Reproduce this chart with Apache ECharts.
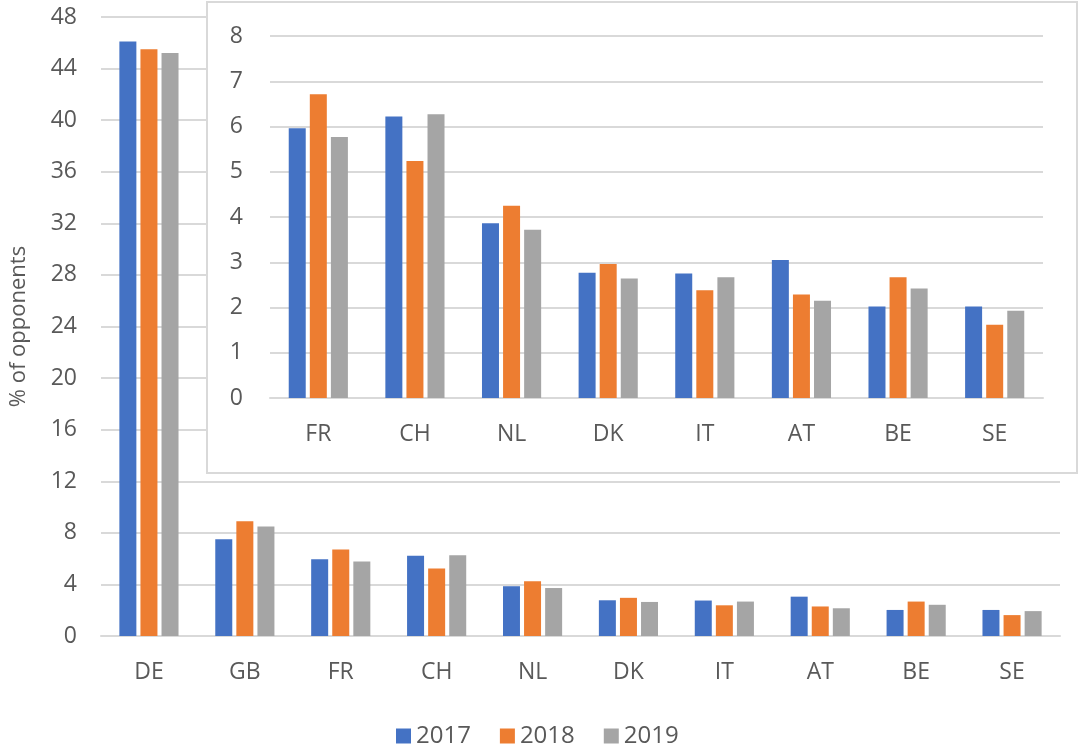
<!DOCTYPE html>
<html><head><meta charset="utf-8">
<script src="https://cdn.jsdelivr.net/npm/echarts@6/dist/echarts.min.js"></script>
<style>html,body{margin:0;padding:0;background:#fff}#c{width:1080px;height:747px}</style>
</head><body><div id="c"></div>
<script>
const years = ['2017', '2018', '2019'];
const mainCategories = ['DE', 'GB', 'FR', 'CH', 'NL', 'DK', 'IT', 'AT', 'BE', 'SE'];
const main2017 = [46.1, 7.5, 5.96, 6.22, 3.86, 2.77, 2.75, 3.05, 2.02, 2.02];
const main2018 = [45.5, 8.9, 6.71, 5.24, 4.25, 2.96, 2.38, 2.29, 2.67, 1.62];
const main2019 = [45.2, 8.5, 5.77, 6.27, 3.72, 2.64, 2.67, 2.15, 2.42, 1.93];
const insetCategories = ['FR', 'CH', 'NL', 'DK', 'IT', 'AT', 'BE', 'SE'];
const inset2017 = [5.96, 6.22, 3.86, 2.77, 2.75, 3.05, 2.02, 2.02];
const inset2018 = [6.71, 5.24, 4.25, 2.96, 2.38, 2.29, 2.67, 1.62];
const inset2019 = [5.77, 6.27, 3.72, 2.64, 2.67, 2.15, 2.42, 1.93];
const mainTicks = {min: 0, max: 48, interval: 4};
const insetTicks = {min: 0, max: 8, interval: 1};

const colors = ['#4472C4', '#ED7D31', '#A5A5A5'];
const txt = '#595959';
const font = 'Open Sans';
const chart = echarts.init(document.getElementById('c'));
const mainData = [main2017, main2018, main2019];
const insetData = [inset2017, inset2018, inset2019];
const series = [];
years.forEach((y, i) => {
  series.push({name: y, type: 'bar', xAxisIndex: 0, yAxisIndex: 0, data: mainData[i],
    barWidth: 17, barGap: '24%', itemStyle: {color: colors[i]}, z: 2});
});
years.forEach((y, i) => {
  series.push({name: y, type: 'bar', xAxisIndex: 1, yAxisIndex: 1, data: insetData[i],
    barWidth: 17, barGap: '24%', itemStyle: {color: colors[i]}, z: 12});
});
chart.setOption({
  animation: false,
  color: colors,
  textStyle: {fontFamily: font},
  grid: [
    {left: 94, right: 20, top: 17, bottom: 111},
    {left: 270, right: 37, top: 36, bottom: 349, z: 10}
  ],
  legend: {
    data: years, top: 719, left: 391, itemWidth: 15, itemHeight: 15, itemGap: 29,
    icon: 'rect', textStyle: {color: txt, fontSize: 24, fontFamily: font}
  },
  graphic: [{
    type: 'rect', z: 5, silent: true,
    shape: {x: 207, y: 2, width: 870, height: 471},
    style: {fill: '#fff', stroke: '#d9d9d9', lineWidth: 2}
  }],
  xAxis: [
    {type: 'category', gridIndex: 0, data: mainCategories,
      axisLine: {lineStyle: {color: '#d9d9d9', width: 2}}, axisTick: {show: false},
      axisLabel: {color: txt, fontSize: 23, margin: 25, fontFamily: font}},
    {type: 'category', gridIndex: 1, data: insetCategories, z: 10,
      axisLine: {lineStyle: {color: '#d9d9d9', width: 2}}, axisTick: {show: false},
      axisLabel: {color: txt, fontSize: 23, margin: 25, fontFamily: font}}
  ],
  yAxis: [
    {type: 'value', gridIndex: 0, min: mainTicks.min, max: mainTicks.max, interval: mainTicks.interval,
      name: '% of opponents', nameLocation: 'middle', nameGap: 71,
      nameTextStyle: {color: txt, fontSize: 22, fontFamily: font},
      axisLine: {show: false}, axisTick: {show: false},
      axisLabel: {color: txt, fontSize: 23, margin: 24, fontFamily: font},
      splitLine: {lineStyle: {color: '#d9d9d9', width: 2}}},
    {type: 'value', gridIndex: 1, min: insetTicks.min, max: insetTicks.max, interval: insetTicks.interval, z: 10,
      axisLine: {show: false}, axisTick: {show: false},
      axisLabel: {color: txt, fontSize: 23, margin: 27, fontFamily: font},
      splitLine: {lineStyle: {color: '#d9d9d9', width: 2}}}
  ],
  series: series
});
</script></body></html>
